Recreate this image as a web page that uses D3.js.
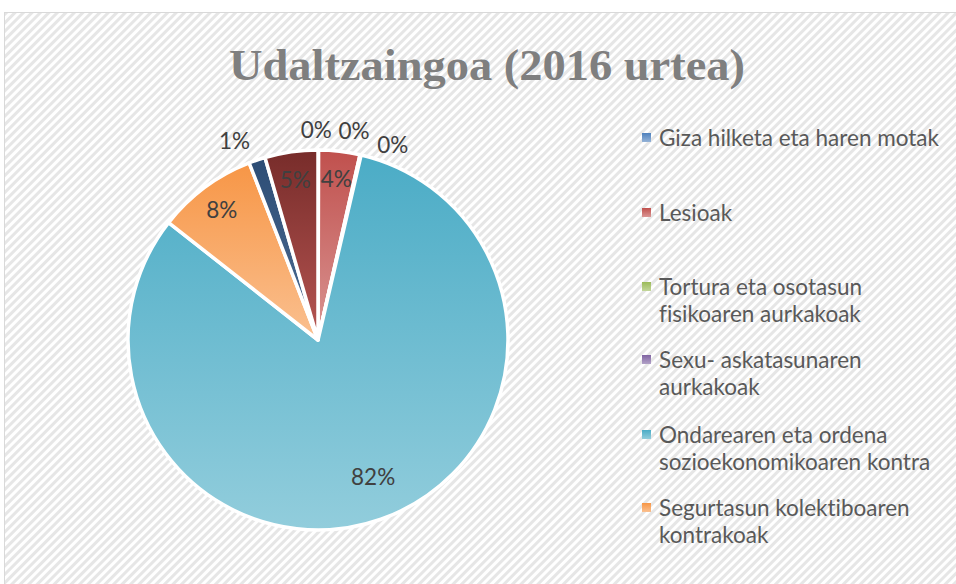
<!DOCTYPE html>
<html>
<head>
<meta charset="utf-8">
<script src="https://d3js.org/d3.v7.min.js"></script>
<style>
  body { margin: 0; background: #fff; }
  svg { display: block; }
  text { font-variant-ligatures: none; font-feature-settings: "liga" 0; }
</style>
</head>
<body>
<svg class="chart"></svg>
<script>
let width = 956,
  height = 584;

// slice order as drawn, clockwise from 12 o'clock
let categories = [
  "Giza hilketa eta haren motak",
  "Lesioak",
  "Tortura eta osotasun fisikoaren aurkakoak",
  "Sexu- askatasunaren aurkakoak",
  "Ondarearen eta ordena sozioekonomikoaren kontra",
  "Segurtasun kolektiboaren kontrakoak",
  "Administrazio publikoaren aurkakoak",
  "Beste batzuk",
];
let values = [0.05, 3.5, 0.05, 0.05, 81.95, 8.5, 1.4, 4.5];
let labels = ["0%", "4%", "0%", "0%", "82%", "8%", "1%", "5%"];
// legend only shows the first six (rest is cut off in the original)
let legendLines = [
  ["Giza hilketa eta haren motak"],
  ["Lesioak"],
  ["Tortura eta osotasun", "fisikoaren aurkakoak"],
  ["Sexu- askatasunaren", "aurkakoak"],
  ["Ondarearen eta ordena", "sozioekonomikoaren kontra"],
  ["Segurtasun kolektiboaren", "kontrakoak"],
];
let colorsTop = ["#4F81BD", "#C0504D", "#9BBB59", "#8064A2", "#4BACC6", "#F79646", "#2C4D75", "#772C2A"];
let colorsBottom = ["#95B3D7", "#DA9694", "#C3D69B", "#B2A2C7", "#92CDDC", "#FAC090", "#4F6D94", "#B65552"];

let svg = d3.select(".chart").attr("width", width).attr("height", height);
let defs = svg.append("defs");

// hatched chart background
let pat = defs.append("pattern")
  .attr("id", "hatch")
  .attr("patternUnits", "userSpaceOnUse")
  .attr("width", 6).attr("height", 6)
  .attr("patternTransform", "rotate(45)");
pat.append("rect").attr("width", 6).attr("height", 6).attr("fill", "#fff");
pat.append("rect").attr("width", 3).attr("height", 6).attr("fill", "#e6e6e6");

svg.append("rect")
  .attr("x", 4.5).attr("y", 12.5)
  .attr("width", width).attr("height", height)
  .attr("fill", "url(#hatch)")
  .attr("stroke", "#d9d9d9");

svg.append("text")
  .attr("x", 487).attr("y", 80)
  .attr("text-anchor", "middle")
  .attr("font-family", "'Liberation Serif', serif")
  .attr("font-weight", "bold")
  .attr("font-size", 45)
  .attr("fill", "#7f7f7f")
  .attr("textLength", 516)
  .attr("lengthAdjust", "spacingAndGlyphs")
  .text("Udaltzaingoa (2016 urtea)");

// gradients, dark at top -> light at bottom
colorsTop.forEach((c, i) => {
  let g = defs.append("linearGradient")
    .attr("id", "grad" + i)
    .attr("x1", 0).attr("y1", 0).attr("x2", 0).attr("y2", 1);
  g.append("stop").attr("offset", "0%").attr("stop-color", c);
  g.append("stop").attr("offset", "100%").attr("stop-color", colorsBottom[i]);
});

let cx = 318, cy = 340, radius = 190;
let pie = d3.pie().sort(null).value((d) => d);
let arcs = pie(values);
let arc = d3.arc().innerRadius(0).outerRadius(radius);

let g = svg.append("g").attr("transform", `translate(${cx},${cy})`);
g.selectAll("path")
  .data(arcs)
  .enter()
  .append("path")
  .attr("d", arc)
  .attr("fill", (d, i) => `url(#grad${i})`)
  .attr("stroke", "#fff")
  .attr("stroke-width", 3.5)
  .attr("stroke-linejoin", "round");

// data labels: inside for big slices, outside for the small ones
let inArc = d3.arc().innerRadius(radius * 0.85).outerRadius(radius * 0.85);
let bigIn = d3.arc().innerRadius(radius * 0.78).outerRadius(radius * 0.78);
let outArc = d3.arc().innerRadius(radius + 17).outerRadius(radius + 17);
// best-fit nudges for the crowded small labels
let nudge = { 0: [-2, -3], 2: [-10, -7], 3: [28, 7], 4: [6, -3], 6: [-17, -3] };

g.selectAll("text.lbl")
  .data(arcs)
  .enter()
  .append("text")
  .attr("class", "lbl")
  .attr("transform", (d, i) => {
    let p;
    if (values[i] < 2) p = outArc.centroid(d);
    else if (values[i] > 50) p = bigIn.centroid(d);
    else p = inArc.centroid(d);
    let n = nudge[i] || [0, 0];
    return `translate(${p[0] + n[0]},${p[1] + n[1]})`;
  })
  .attr("text-anchor", "middle")
  .attr("dy", "0.35em")
  .attr("font-family", "Lato, 'Open Sans', sans-serif")
  .attr("font-size", 22.5)
  .attr("fill", "#404040")
  .text((d, i) => labels[i]);

// legend
let legendY = [138, 213, 287, 360, 435, 508];
let lg = svg.append("g").attr("font-family", "Lato, 'Open Sans', sans-serif")
  .attr("font-size", 22.5).attr("fill", "#595959");
legendLines.forEach((lines, i) => {
  lg.append("rect")
    .attr("x", 642).attr("y", legendY[i] - 5)
    .attr("width", 9).attr("height", 9)
    .attr("fill", `url(#grad${i})`);
  let t = lg.append("text").attr("x", 659).attr("y", legendY[i]);
  lines.forEach((l, j) => {
    t.append("tspan").attr("x", 659).attr("dy", j == 0 ? "0.35em" : 27).text(l);
  });
});
</script>
</body>
</html>
